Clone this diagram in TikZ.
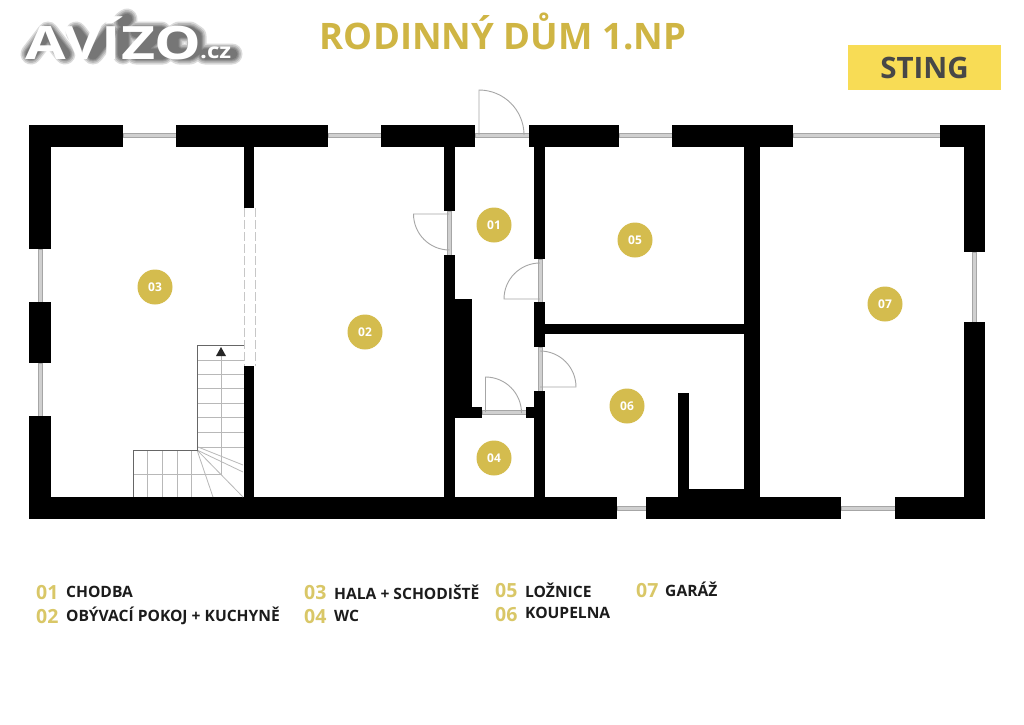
\documentclass[tikz,border=0pt]{standalone}
\usepackage{fontspec}
\setmainfont{Open Sans}
\definecolor{gold}{HTML}{D4BC4E}
\definecolor{goldtxt}{HTML}{D9C767}
\definecolor{titlegold}{HTML}{CFB544}
\definecolor{stingbg}{HTML}{F8DC55}
\definecolor{stingink}{HTML}{474747}
\definecolor{ink}{HTML}{1C1C1C}
\definecolor{linegray}{HTML}{A6A6A6}
\definecolor{wingray}{HTML}{D0D0D0}
\tikzset{
  wall/.style={fill=black,draw=none},
  win/.style={fill=wingray,draw=linegray,line width=.8pt},
  leaf/.style={draw=linegray,line width=.9pt},
  tread/.style={draw=black!28,line width=.8pt},
  edge/.style={draw=black!60,line width=.9pt},
  room/.style={circle,fill=gold,minimum size=35pt,inner sep=0pt,text=white,font=\bfseries\fontsize{12}{14}\selectfont},
  legnum/.style={anchor=west,inner sep=0pt,text=goldtxt,font=\bfseries\fontsize{19.5}{20}\selectfont},
  legtxt/.style={anchor=west,inner sep=0pt,text=ink,font=\bfseries\fontsize{15.6}{17}\selectfont},
  glow/.style={draw=black,line join=round,line cap=round}
}
\begin{document}
\begin{tikzpicture}[x=1pt,y=-1pt]
\useasboundingbox (0,0) rectangle (1024,724);
\fill[white] (0,0) rectangle (1024,724);
% windows and sills
\foreach \a/\b in {123/176,328/381,619/672,793/940,475/529}
  \filldraw[win] (\a,133) rectangle (\b,137.5);
\foreach \a/\b in {617/646,841/895}
  \filldraw[win] (\a,506) rectangle (\b,510.5);
\foreach \a/\b in {249/302,363/416}
  \filldraw[win] (38,\a) rectangle (42.5,\b);
\filldraw[win] (972,252) rectangle (976.5,322);
\filldraw[win] (447.5,211) rectangle (451.5,255);
\filldraw[win] (538,259) rectangle (542.5,302);
\filldraw[win] (538,347) rectangle (542.5,391);
\filldraw[win] (482,410.5) rectangle (526,414.5);
% walls
\foreach \a/\b/\c/\d in {
 29/125/123/147, 176/125/328/147, 381/125/475/147, 529/125/619/147,
 672/125/793/147, 940/125/985/147,
 29/125/51/249, 29/302/51/363, 29/416/51/519,
 964/125/985/252, 964/322/985/519,
 29/497/617/519, 646/497/841/519, 895/497/985/519,
 244/147/254/208, 244/366/254/497,
 444/147/455/211, 444/255/455/497, 444/299/472/418, 444/407/482/418,
 526/407/540/418,
 534/147/545/259, 534/302/545/347, 534/391/545/497,
 545/324/746/334, 744/147/760/497,
 678/393/689/497, 678/489/746/497}
  \fill[wall] (\a,\b) rectangle (\c,\d);
% dashed opening
\draw[draw=black!22,line width=.9pt,dash pattern=on 9pt off 3pt] (244.5,208) -- (244.5,366);
\draw[draw=black!22,line width=.9pt,dash pattern=on 9pt off 3pt] (255,208) -- (255,366);
% doors
\draw[leaf] (479,135) -- (479,90) arc[start angle=-90,end angle=0,radius=45];
\draw[leaf] (449,214) -- (413.5,214) arc[start angle=180,end angle=90,radius=36];
\draw[leaf] (540,299) -- (504,299) arc[start angle=180,end angle=270,radius=36];
\draw[leaf] (540,387) -- (576,387) arc[start angle=0,end angle=-90,radius=36];
\draw[leaf] (485.5,412) -- (485.5,377) arc[start angle=-90,end angle=0,radius=36];
% stairs
\foreach \y in {360,374,388,403,417,432,447}
  \draw[tread] (197,\y) -- (244,\y);
\foreach \x in {147,162,177,191}
  \draw[tread] (\x,450) -- (\x,497);
\draw[tread] (133,474) -- (221,474) -- (221,355);
\draw[tread] (197,450) -- (213,497);
\draw[tread] (197,450) -- (243,497);
\draw[tread] (197,450) -- (243,472);
\draw[tread] (198,447) -- (243,465);
\draw[edge] (133,497) -- (133,450) -- (197,450) -- (197,345) -- (244,345);
\fill[black!85] (221,347) -- (226,356) -- (216,356) -- cycle;
% rooms
\node[room] (r1) at (494,225) {01};
\node[room] (r2) at (365,332) {02};
\node[room] (r3) at (155,287) {03};
\node[room] (r4) at (494,458) {04};
\node[room] (r5) at (635,240) {05};
\node[room] (r6) at (627,406) {06};
\node[room] (r7) at (885,304) {07};
% title
\node[anchor=center,inner sep=0pt,text=titlegold,font=\bfseries\fontsize{36.5}{38}\selectfont] (title) at (503,31) {RODINNÝ DŮM 1.NP};
\node[anchor=north west,fill=stingbg,minimum width=153pt,minimum height=45pt,inner sep=0pt] (stingbox) at (848,45) {};
\node[inner sep=0pt,text=stingink,font=\bfseries\fontsize{29.5}{30}\selectfont] (sting) at (924.5,67.5) {STING};
% logo: soft shadow under the letters
\foreach \w in {21,18,15,13,11}
  \draw[glow,opacity=.14,line width=\w pt]
    (31,54) -- (48,32) -- (65,54)
    (76,32) -- (93,54) -- (110,32)
    (123,32) -- (123,54)
    (123,22) -- (127,19)
    (136,32) -- (161,32) -- (136,54) -- (163,54)
    (173,36) -- (173,50) -- (179,54) -- (190,54) -- (196,50) -- (196,36) -- (190,32) -- (179,32) -- cycle
    (205,54) -- (232,54);
\node[anchor=base west,inner sep=0pt,text=white,font=\bfseries\fontsize{46}{48}\selectfont] (logo) at (25,59) {\scalebox{1.28}[1]{AVÍZO}};
\node[anchor=base west,inner sep=0pt,text=white,font=\bfseries\fontsize{21}{22}\selectfont] (logocz) at (200,58) {\scalebox{1.15}[1]{.cz}};
% legend
\node[legnum] (n1) at (36,593) {01}; \node[legtxt] (t1) at (66,592) {CHODBA};
\node[legnum] (n2) at (36,617) {02}; \node[legtxt] (t2) at (66,616) {OBÝVACÍ POKOJ + KUCHYNĚ};
\node[legnum] (n3) at (304,593) {03}; \node[legtxt] (t3) at (334,592) {HALA + SCHODIŠTĚ};
\node[legnum] (n4) at (304,617) {04}; \node[legtxt] (t4) at (334,616) {WC};
\node[legnum] (n5) at (495,591) {05}; \node[legtxt] (t5) at (525,590) {LOŽNICE};
\node[legnum] (n6) at (495,615) {06}; \node[legtxt] (t6) at (525,613) {KOUPELNA};
\node[legnum] (n7) at (636,591) {07}; \node[legtxt] (t7) at (665,589) {GARÁŽ};
\end{tikzpicture}
\end{document}
